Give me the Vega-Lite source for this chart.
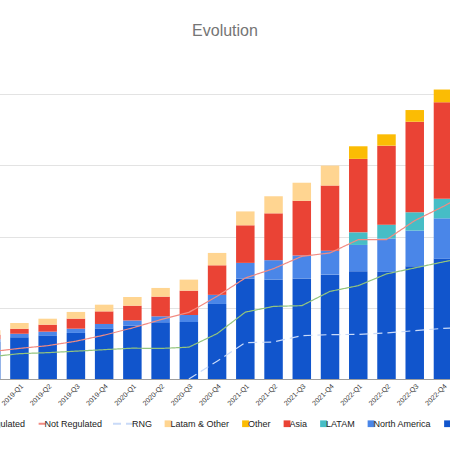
{
  "$schema": "https://vega.github.io/schema/vega-lite/v6.json",
  "autosize": {"type": "none"},
  "width": 514,
  "height": 299,
  "padding": {"left": -32, "right": -32, "top": 80, "bottom": 71},
  "title": {"text": "Evolution"},
  "datasets": {
    "bars": [
      {"quarter": "2018-Q4", "series": "Europe", "value": 524},
      {"quarter": "2018-Q4", "series": "North America", "value": 35},
      {"quarter": "2018-Q4", "series": "Asia", "value": 64},
      {"quarter": "2018-Q4", "series": "Latam & Other", "value": 63},
      {"quarter": "2019-Q1", "series": "Europe", "value": 585},
      {"quarter": "2019-Q1", "series": "North America", "value": 52},
      {"quarter": "2019-Q1", "series": "Asia", "value": 70},
      {"quarter": "2019-Q1", "series": "Latam & Other", "value": 80},
      {"quarter": "2019-Q2", "series": "Europe", "value": 613},
      {"quarter": "2019-Q2", "series": "North America", "value": 52},
      {"quarter": "2019-Q2", "series": "Asia", "value": 98},
      {"quarter": "2019-Q2", "series": "Latam & Other", "value": 84},
      {"quarter": "2019-Q3", "series": "Europe", "value": 647},
      {"quarter": "2019-Q3", "series": "North America", "value": 60},
      {"quarter": "2019-Q3", "series": "Asia", "value": 141},
      {"quarter": "2019-Q3", "series": "Latam & Other", "value": 94},
      {"quarter": "2019-Q4", "series": "Europe", "value": 711},
      {"quarter": "2019-Q4", "series": "North America", "value": 62},
      {"quarter": "2019-Q4", "series": "Asia", "value": 177},
      {"quarter": "2019-Q4", "series": "Latam & Other", "value": 94},
      {"quarter": "2020-Q1", "series": "Europe", "value": 753},
      {"quarter": "2020-Q1", "series": "North America", "value": 69},
      {"quarter": "2020-Q1", "series": "Asia", "value": 208},
      {"quarter": "2020-Q1", "series": "Latam & Other", "value": 122},
      {"quarter": "2020-Q2", "series": "Europe", "value": 796},
      {"quarter": "2020-Q2", "series": "North America", "value": 84},
      {"quarter": "2020-Q2", "series": "Asia", "value": 277},
      {"quarter": "2020-Q2", "series": "Latam & Other", "value": 122},
      {"quarter": "2020-Q3", "series": "Europe", "value": 801},
      {"quarter": "2020-Q3", "series": "North America", "value": 98},
      {"quarter": "2020-Q3", "series": "Asia", "value": 342},
      {"quarter": "2020-Q3", "series": "Latam & Other", "value": 155},
      {"quarter": "2020-Q4", "series": "Europe", "value": 1054},
      {"quarter": "2020-Q4", "series": "North America", "value": 128},
      {"quarter": "2020-Q4", "series": "Asia", "value": 415},
      {"quarter": "2020-Q4", "series": "Latam & Other", "value": 174},
      {"quarter": "2021-Q1", "series": "Europe", "value": 1413},
      {"quarter": "2021-Q1", "series": "North America", "value": 218},
      {"quarter": "2021-Q1", "series": "Asia", "value": 528},
      {"quarter": "2021-Q1", "series": "Latam & Other", "value": 195},
      {"quarter": "2021-Q2", "series": "Europe", "value": 1399},
      {"quarter": "2021-Q2", "series": "North America", "value": 270},
      {"quarter": "2021-Q2", "series": "Asia", "value": 658},
      {"quarter": "2021-Q2", "series": "Latam & Other", "value": 240},
      {"quarter": "2021-Q3", "series": "Europe", "value": 1413},
      {"quarter": "2021-Q3", "series": "North America", "value": 321},
      {"quarter": "2021-Q3", "series": "Asia", "value": 769},
      {"quarter": "2021-Q3", "series": "Latam & Other", "value": 254},
      {"quarter": "2021-Q4", "series": "Europe", "value": 1466},
      {"quarter": "2021-Q4", "series": "North America", "value": 337},
      {"quarter": "2021-Q4", "series": "Asia", "value": 914},
      {"quarter": "2021-Q4", "series": "Latam & Other", "value": 281},
      {"quarter": "2022-Q1", "series": "Europe", "value": 1515},
      {"quarter": "2022-Q1", "series": "North America", "value": 368},
      {"quarter": "2022-Q1", "series": "LATAM", "value": 177},
      {"quarter": "2022-Q1", "series": "Asia", "value": 1032},
      {"quarter": "2022-Q1", "series": "Other", "value": 177},
      {"quarter": "2022-Q2", "series": "Europe", "value": 1505},
      {"quarter": "2022-Q2", "series": "North America", "value": 469},
      {"quarter": "2022-Q2", "series": "LATAM", "value": 194},
      {"quarter": "2022-Q2", "series": "Asia", "value": 1110},
      {"quarter": "2022-Q2", "series": "Other", "value": 159},
      {"quarter": "2022-Q3", "series": "Europe", "value": 1583},
      {"quarter": "2022-Q3", "series": "North America", "value": 502},
      {"quarter": "2022-Q3", "series": "LATAM", "value": 257},
      {"quarter": "2022-Q3", "series": "Asia", "value": 1272},
      {"quarter": "2022-Q3", "series": "Other", "value": 164},
      {"quarter": "2022-Q4", "series": "Europe", "value": 1691},
      {"quarter": "2022-Q4", "series": "North America", "value": 566},
      {"quarter": "2022-Q4", "series": "LATAM", "value": 274},
      {"quarter": "2022-Q4", "series": "Asia", "value": 1356},
      {"quarter": "2022-Q4", "series": "Other", "value": 179}
    ],
    "lines": [
      {"quarter": "2018-Q4", "series": "Regulated", "value": 313},
      {"quarter": "2019-Q1", "series": "Regulated", "value": 356},
      {"quarter": "2019-Q2", "series": "Regulated", "value": 370},
      {"quarter": "2019-Q3", "series": "Regulated", "value": 391},
      {"quarter": "2019-Q4", "series": "Regulated", "value": 412},
      {"quarter": "2020-Q1", "series": "Regulated", "value": 433},
      {"quarter": "2020-Q2", "series": "Regulated", "value": 429},
      {"quarter": "2020-Q3", "series": "Regulated", "value": 447},
      {"quarter": "2020-Q4", "series": "Regulated", "value": 637},
      {"quarter": "2021-Q1", "series": "Regulated", "value": 939},
      {"quarter": "2021-Q2", "series": "Regulated", "value": 1020},
      {"quarter": "2021-Q3", "series": "Regulated", "value": 1030},
      {"quarter": "2021-Q4", "series": "Regulated", "value": 1231},
      {"quarter": "2022-Q1", "series": "Regulated", "value": 1311},
      {"quarter": "2022-Q2", "series": "Regulated", "value": 1476},
      {"quarter": "2022-Q3", "series": "Regulated", "value": 1560},
      {"quarter": "2022-Q4", "series": "Regulated", "value": 1644},
      {"quarter": "2023-Q1", "series": "Regulated", "value": 1723},
      {"quarter": "2018-Q4", "series": "Not Regulated", "value": 384},
      {"quarter": "2019-Q1", "series": "Not Regulated", "value": 430},
      {"quarter": "2019-Q2", "series": "Not Regulated", "value": 468},
      {"quarter": "2019-Q3", "series": "Not Regulated", "value": 531},
      {"quarter": "2019-Q4", "series": "Not Regulated", "value": 616},
      {"quarter": "2020-Q1", "series": "Not Regulated", "value": 717},
      {"quarter": "2020-Q2", "series": "Not Regulated", "value": 833},
      {"quarter": "2020-Q3", "series": "Not Regulated", "value": 936},
      {"quarter": "2020-Q4", "series": "Not Regulated", "value": 1161},
      {"quarter": "2021-Q1", "series": "Not Regulated", "value": 1419},
      {"quarter": "2021-Q2", "series": "Not Regulated", "value": 1550},
      {"quarter": "2021-Q3", "series": "Not Regulated", "value": 1723},
      {"quarter": "2021-Q4", "series": "Not Regulated", "value": 1771},
      {"quarter": "2022-Q1", "series": "Not Regulated", "value": 1958},
      {"quarter": "2022-Q2", "series": "Not Regulated", "value": 1958},
      {"quarter": "2022-Q3", "series": "Not Regulated", "value": 2225},
      {"quarter": "2022-Q4", "series": "Not Regulated", "value": 2422},
      {"quarter": "2023-Q1", "series": "Not Regulated", "value": 2633},
      {"quarter": "2020-Q3", "series": "RNG", "value": 0},
      {"quarter": "2020-Q4", "series": "RNG", "value": 250},
      {"quarter": "2021-Q1", "series": "RNG", "value": 510},
      {"quarter": "2021-Q2", "series": "RNG", "value": 520},
      {"quarter": "2021-Q3", "series": "RNG", "value": 609},
      {"quarter": "2021-Q4", "series": "RNG", "value": 623},
      {"quarter": "2022-Q1", "series": "RNG", "value": 627},
      {"quarter": "2022-Q2", "series": "RNG", "value": 647},
      {"quarter": "2022-Q3", "series": "RNG", "value": 679},
      {"quarter": "2022-Q4", "series": "RNG", "value": 711},
      {"quarter": "2023-Q1", "series": "RNG", "value": 728}
    ]
  },
  "encoding": {
    "x": {
      "field": "quarter",
      "type": "nominal",
      "scale": {
        "domain": ["2018-Q4","2019-Q1","2019-Q2","2019-Q3","2019-Q4","2020-Q1","2020-Q2","2020-Q3","2020-Q4","2021-Q1","2021-Q2","2021-Q3","2021-Q4","2022-Q1","2022-Q2","2022-Q3","2022-Q4","2023-Q1"],
        "paddingInner": 0.345,
        "paddingOuter": 0.2745,
        "align": 0.9
      },
      "axis": {"title": null, "labelAngle": -45, "labelFontSize": 7, "labelColor": "#333333", "ticks": false, "domainColor": "#9e9e9e", "grid": false, "labelPadding": 3}
    },
    "y": {
      "field": "value",
      "type": "quantitative",
      "scale": {"domain": [0, 4200], "nice": false, "zero": true},
      "axis": {"title": null, "labels": false, "ticks": false, "domain": false, "grid": true, "gridColor": "#e3e3e3", "values": [1000, 2000, 3000, 4000]}
    }
  },
  "layer": [
    {
      "data": {"name": "bars"},
      "mark": {"type": "bar"},
      "encoding": {
        "y": {"field": "value", "type": "quantitative", "stack": "zero"},
        "color": {
          "field": "series",
          "type": "nominal",
          "scale": {
            "domain": ["Regulated", "Not Regulated", "RNG", "Latam & Other", "Other", "Asia", "LATAM", "North America", "Europe"],
            "range": ["#93c47d", "#f28b82", "#c9daf8", "#ffd591", "#fbbc04", "#ea4335", "#46bdc6", "#4a86e8", "#1155cc"]
          },
          "legend": {
            "orient": "bottom",
            "direction": "horizontal",
            "title": null,
            "offset": 12,
            "labelFontSize": 9,
            "labelColor": "#222222",
            "labelOffset": 4,
            "columnPadding": 5.5,
            "symbolSize": 441,
            "symbolOpacity": 1,
            "symbolType": {"expr": "datum.value == 'RNG' ? 'M-1,0H1' : (datum.value == 'Regulated' || datum.value == 'Not Regulated') ? 'M0.25,0H0.9' : 'M0.25,-0.32H0.9V0.32H0.25Z'"},
            "symbolStrokeWidth": {"expr": "(datum.value == 'RNG' || datum.value == 'Regulated' || datum.value == 'Not Regulated') ? 2.2 : 0"},
            "symbolDash": {"expr": "datum.value == 'RNG' ? [8, 5] : [1, 0]"},
            "symbolStrokeColor": {"expr": "scale('color', datum.value)"},
            "symbolFillColor": {"expr": "scale('color', datum.value)"}
          }
        },
        "order": {"field": "stackOrder"}
      }
    },
    {
      "data": {"name": "lines"},
      "mark": {"type": "line", "strokeWidth": 1.2},
      "encoding": {
        "color": {"field": "series", "type": "nominal"},
        "strokeDash": {
          "field": "series",
          "type": "nominal",
          "scale": {"domain": ["Regulated", "Not Regulated", "RNG"], "range": [[1, 0], [1, 0], [9, 5]]},
          "legend": null
        },
        "strokeWidth": {
          "field": "series",
          "type": "nominal",
          "scale": {"domain": ["Regulated", "Not Regulated", "RNG"], "range": [1.2, 1.2, 2]},
          "legend": null
        }
      }
    }
  ],
  "config": {
    "font": "Liberation Sans",
    "view": {"stroke": null},
    "title": {"fontSize": 16, "fontWeight": "normal", "color": "#757575", "offset": 41, "anchor": "middle"},
    "legend": {"layout": {"bottom": {"anchor": "middle"}}}
  }
}
